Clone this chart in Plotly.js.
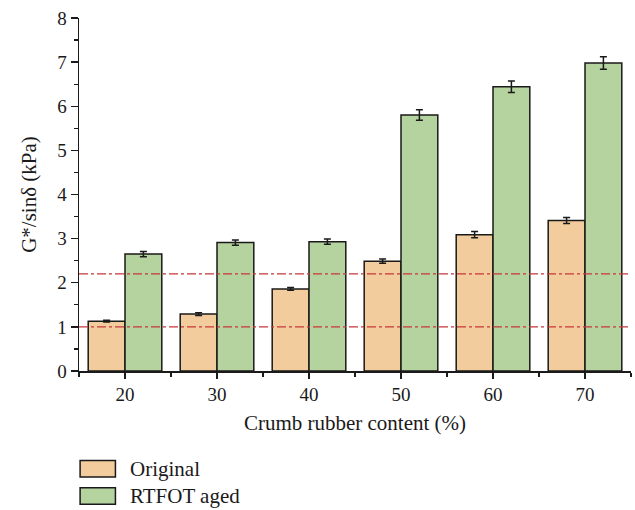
<!DOCTYPE html>
<html>
<head>
<meta charset="utf-8">
<script src="https://cdn.plot.ly/plotly-3.0.1.min.js"></script>
<style>
  html, body { margin: 0; padding: 0; background: #fff; }
  #chart { width: 635px; height: 510px; }
</style>
</head>
<body>
<div id="chart"></div>
<script>
// Crumb rubber content (%)
const contents = [20, 30, 40, 50, 60, 70];

// G*/sinδ (kPa) for unaged and RTFOT-aged binders
const originalValues = [1.13, 1.29, 1.86, 2.49, 3.09, 3.41];
const originalErrors = [0.02, 0.03, 0.03, 0.05, 0.07, 0.07];
const agedValues = [2.65, 2.91, 2.93, 5.80, 6.44, 6.98];
const agedErrors = [0.06, 0.06, 0.06, 0.12, 0.13, 0.14];

// Superpave criteria: 1.0 kPa (original) and 2.2 kPa (RTFOT)
const criteria = [1.0, 2.2];

const seriesNames = ['Original', 'RTFOT aged'];
const seriesColors = ['#f2cc9c', '#b5d39e'];

const FONT = 'Liberation Serif, Times New Roman, serif';
const ink = '#1a1a1a';

const barLine = { color: ink, width: 1.5 };
const errStyle = { type: 'data', visible: true, color: ink, thickness: 1.5, width: 3.5 };

const traces = [
  {
    type: 'bar', name: seriesNames[0], x: contents, y: originalValues,
    marker: { color: seriesColors[0], line: barLine },
    error_y: Object.assign({ array: originalErrors }, errStyle),
    showlegend: false
  },
  {
    type: 'bar', name: seriesNames[1], x: contents, y: agedValues,
    marker: { color: seriesColors[1], line: barLine },
    error_y: Object.assign({ array: agedErrors }, errStyle),
    showlegend: false
  }
];

const shapes = criteria.map(v => ({
  type: 'line', xref: 'paper', yref: 'y', x0: 0, x1: 1, y0: v, y1: v,
  line: { color: '#c8363a', width: 1.3, dash: 'dashdot' }, layer: 'above'
}));

// Legend keys drawn below the axes
const annotations = [];
const keyRows = [-0.277, -0.354];
seriesNames.forEach((name, i) => {
  shapes.push({
    type: 'rect', xref: 'paper', yref: 'paper',
    x0: 0.002, x1: 0.066, y0: keyRows[i] - 0.0235, y1: keyRows[i] + 0.0235,
    fillcolor: seriesColors[i], line: { color: ink, width: 1.5 }
  });
  annotations.push({
    xref: 'paper', yref: 'paper', x: 0.088, y: keyRows[i],
    xanchor: 'left', yanchor: 'middle', showarrow: false,
    text: name, font: { family: FONT, size: 21, color: ink }
  });
});

const layout = {
  width: 635, height: 510,
  margin: { l: 79, r: 4, t: 18, b: 139 },
  paper_bgcolor: '#fff', plot_bgcolor: '#fff',
  font: { family: FONT, size: 19, color: ink },
  barmode: 'group', bargap: 0.2, bargroupgap: 0,
  showlegend: false,
  xaxis: {
    range: [15, 75], tickmode: 'array', tickvals: contents,
    ticks: 'outside', ticklen: 6, tickwidth: 1.3, tickcolor: ink,
    minor: { tickmode: 'linear', tick0: 15, dtick: 10, ticks: 'outside', ticklen: 4, tickwidth: 1.3, tickcolor: ink },
    showline: true, linecolor: ink, linewidth: 1.5,
    showgrid: false, zeroline: false,
    tickfont: { family: FONT, size: 19, color: ink },
    title: { text: 'Crumb rubber content (%)', font: { family: FONT, size: 21, color: ink }, standoff: 11 }
  },
  yaxis: {
    range: [0, 8], tickmode: 'linear', tick0: 0, dtick: 1,
    ticks: 'outside', ticklen: 7, tickwidth: 1.3, tickcolor: ink,
    minor: { tickmode: 'linear', tick0: 0.5, dtick: 0.5, ticks: 'outside', ticklen: 3.5, tickwidth: 1.3, tickcolor: ink },
    showline: true, linecolor: ink, linewidth: 1.5,
    showgrid: false, zeroline: false,
    tickfont: { family: FONT, size: 19, color: ink },
    title: { text: 'G*/sinδ (kPa)', font: { family: FONT, size: 21, color: ink }, standoff: 15 }
  },
  shapes: shapes,
  annotations: annotations
};

Plotly.newPlot('chart', traces, layout, { staticPlot: true, displayModeBar: false });
</script>
</body>
</html>
